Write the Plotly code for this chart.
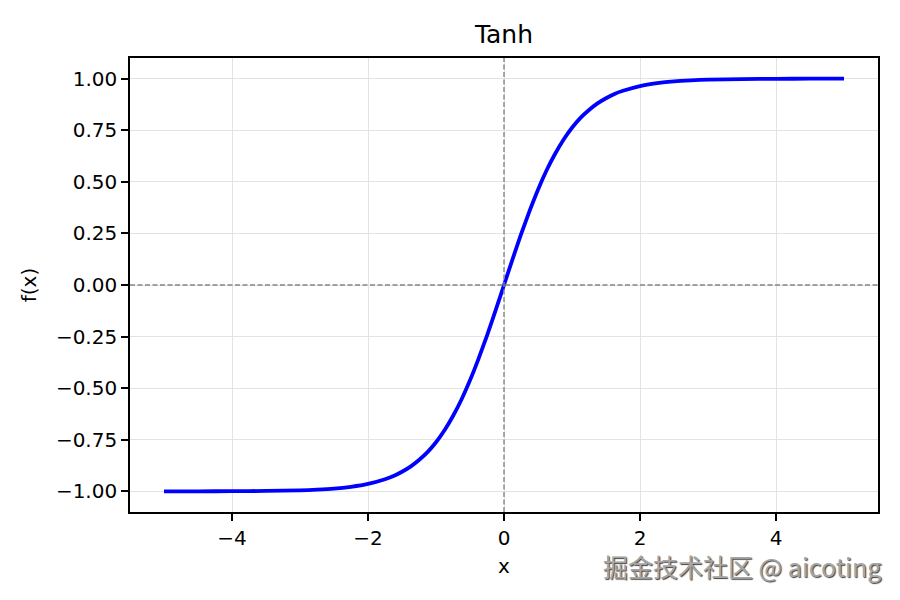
import plotly.graph_objects as go

# Values
x_vals = [-5.0, -4.5, -4.0, -3.5, -3.0, -2.75, -2.5, -2.25, -2.0, -1.75, -1.625, -1.5, -1.375, -1.25,
          -1.125, -1.0, -0.875, -0.75, -0.625, -0.5, -0.375, -0.25, -0.125,
          0.0, 0.125, 0.25, 0.375, 0.5, 0.625, 0.75, 0.875, 1.0, 1.125, 1.25, 1.375, 1.5, 1.625,
          1.75, 2.0, 2.25, 2.5, 2.75, 3.0, 3.5, 4.0, 4.5, 5.0]
y_vals = [-1.000, -1.000, -0.999, -0.998, -0.995, -0.992, -0.987, -0.978, -0.964, -0.941, -0.926,
          -0.905, -0.880, -0.848, -0.810, -0.762, -0.704, -0.635, -0.555, -0.462, -0.358, -0.245,
          -0.124, 0.000, 0.124, 0.245, 0.358, 0.462, 0.555, 0.635, 0.704, 0.762, 0.810, 0.848,
          0.880, 0.905, 0.926, 0.941, 0.964, 0.978, 0.987, 0.992, 0.995, 0.998, 0.999, 1.000, 1.000]

x_ticks = [-4, -2, 0, 2, 4]
x_tick_text = ["\u22124", "\u22122", "0", "2", "4"]
y_ticks = [-1.0, -0.75, -0.5, -0.25, 0.0, 0.25, 0.5, 0.75, 1.0]
y_tick_text = ["\u22121.00", "\u22120.75", "\u22120.50", "\u22120.25", "0.00", "0.25", "0.50", "0.75", "1.00"]

title_text = "Tanh"
x_label = "x"
y_label = "f(x)"
watermark = "掘金技术社区 @ aicoting"

font_family = "DejaVu Sans"

fig = go.Figure()
fig.add_trace(go.Scatter(x=x_vals, y=y_vals, mode="lines",
                         line=dict(color="#0000ff", width=3.8, shape="spline", smoothing=0.5),
                         showlegend=False, hoverinfo="skip"))

# dashed zero reference lines
fig.add_hline(y=0, line=dict(color="#858585", width=1.4, dash="5px,2.5px"))
fig.add_vline(x=0, line=dict(color="#858585", width=1.4, dash="5px,2.5px"))

axis_common = dict(
    showline=True, linecolor="black", linewidth=1.6, mirror=True,
    ticks="outside", ticklen=7, tickwidth=1.6, tickcolor="black",
    showgrid=True, gridcolor="#e3e3e3", gridwidth=1.2,
    zeroline=False,
    tickfont=dict(family=font_family, size=20, color="black"),
)

fig.update_xaxes(range=[-5.5, 5.5], tickmode="array", tickvals=x_ticks, ticktext=x_tick_text,
                 title=dict(text=x_label, font=dict(family=font_family, size=20, color="black"), standoff=10),
                 **axis_common)
fig.update_yaxes(range=[-1.1, 1.1], tickmode="array", tickvals=y_ticks, ticktext=y_tick_text,
                 title=dict(text=y_label, font=dict(family=font_family, size=20, color="black"), standoff=14),
                 **axis_common)

fig.update_layout(
    width=900, height=600,
    paper_bgcolor="white", plot_bgcolor="white",
    margin=dict(l=122, r=30, t=50, b=96),
    title=dict(text=title_text, x=0.5, xref="paper", xanchor="center", y=0.957, yref="container",
               yanchor="middle",
               font=dict(family=font_family, size=25, color="black")),
    annotations=[dict(text=watermark, xref="paper", yref="paper", x=1.007, y=-0.12,
                      xanchor="right", yanchor="middle", showarrow=False,
                      font=dict(family="Noto Sans CJK SC", size=25, color="#a6a6a6",
                                shadow="1px 1px 1px #404040"))],
)

fig.write_html("out.html")
